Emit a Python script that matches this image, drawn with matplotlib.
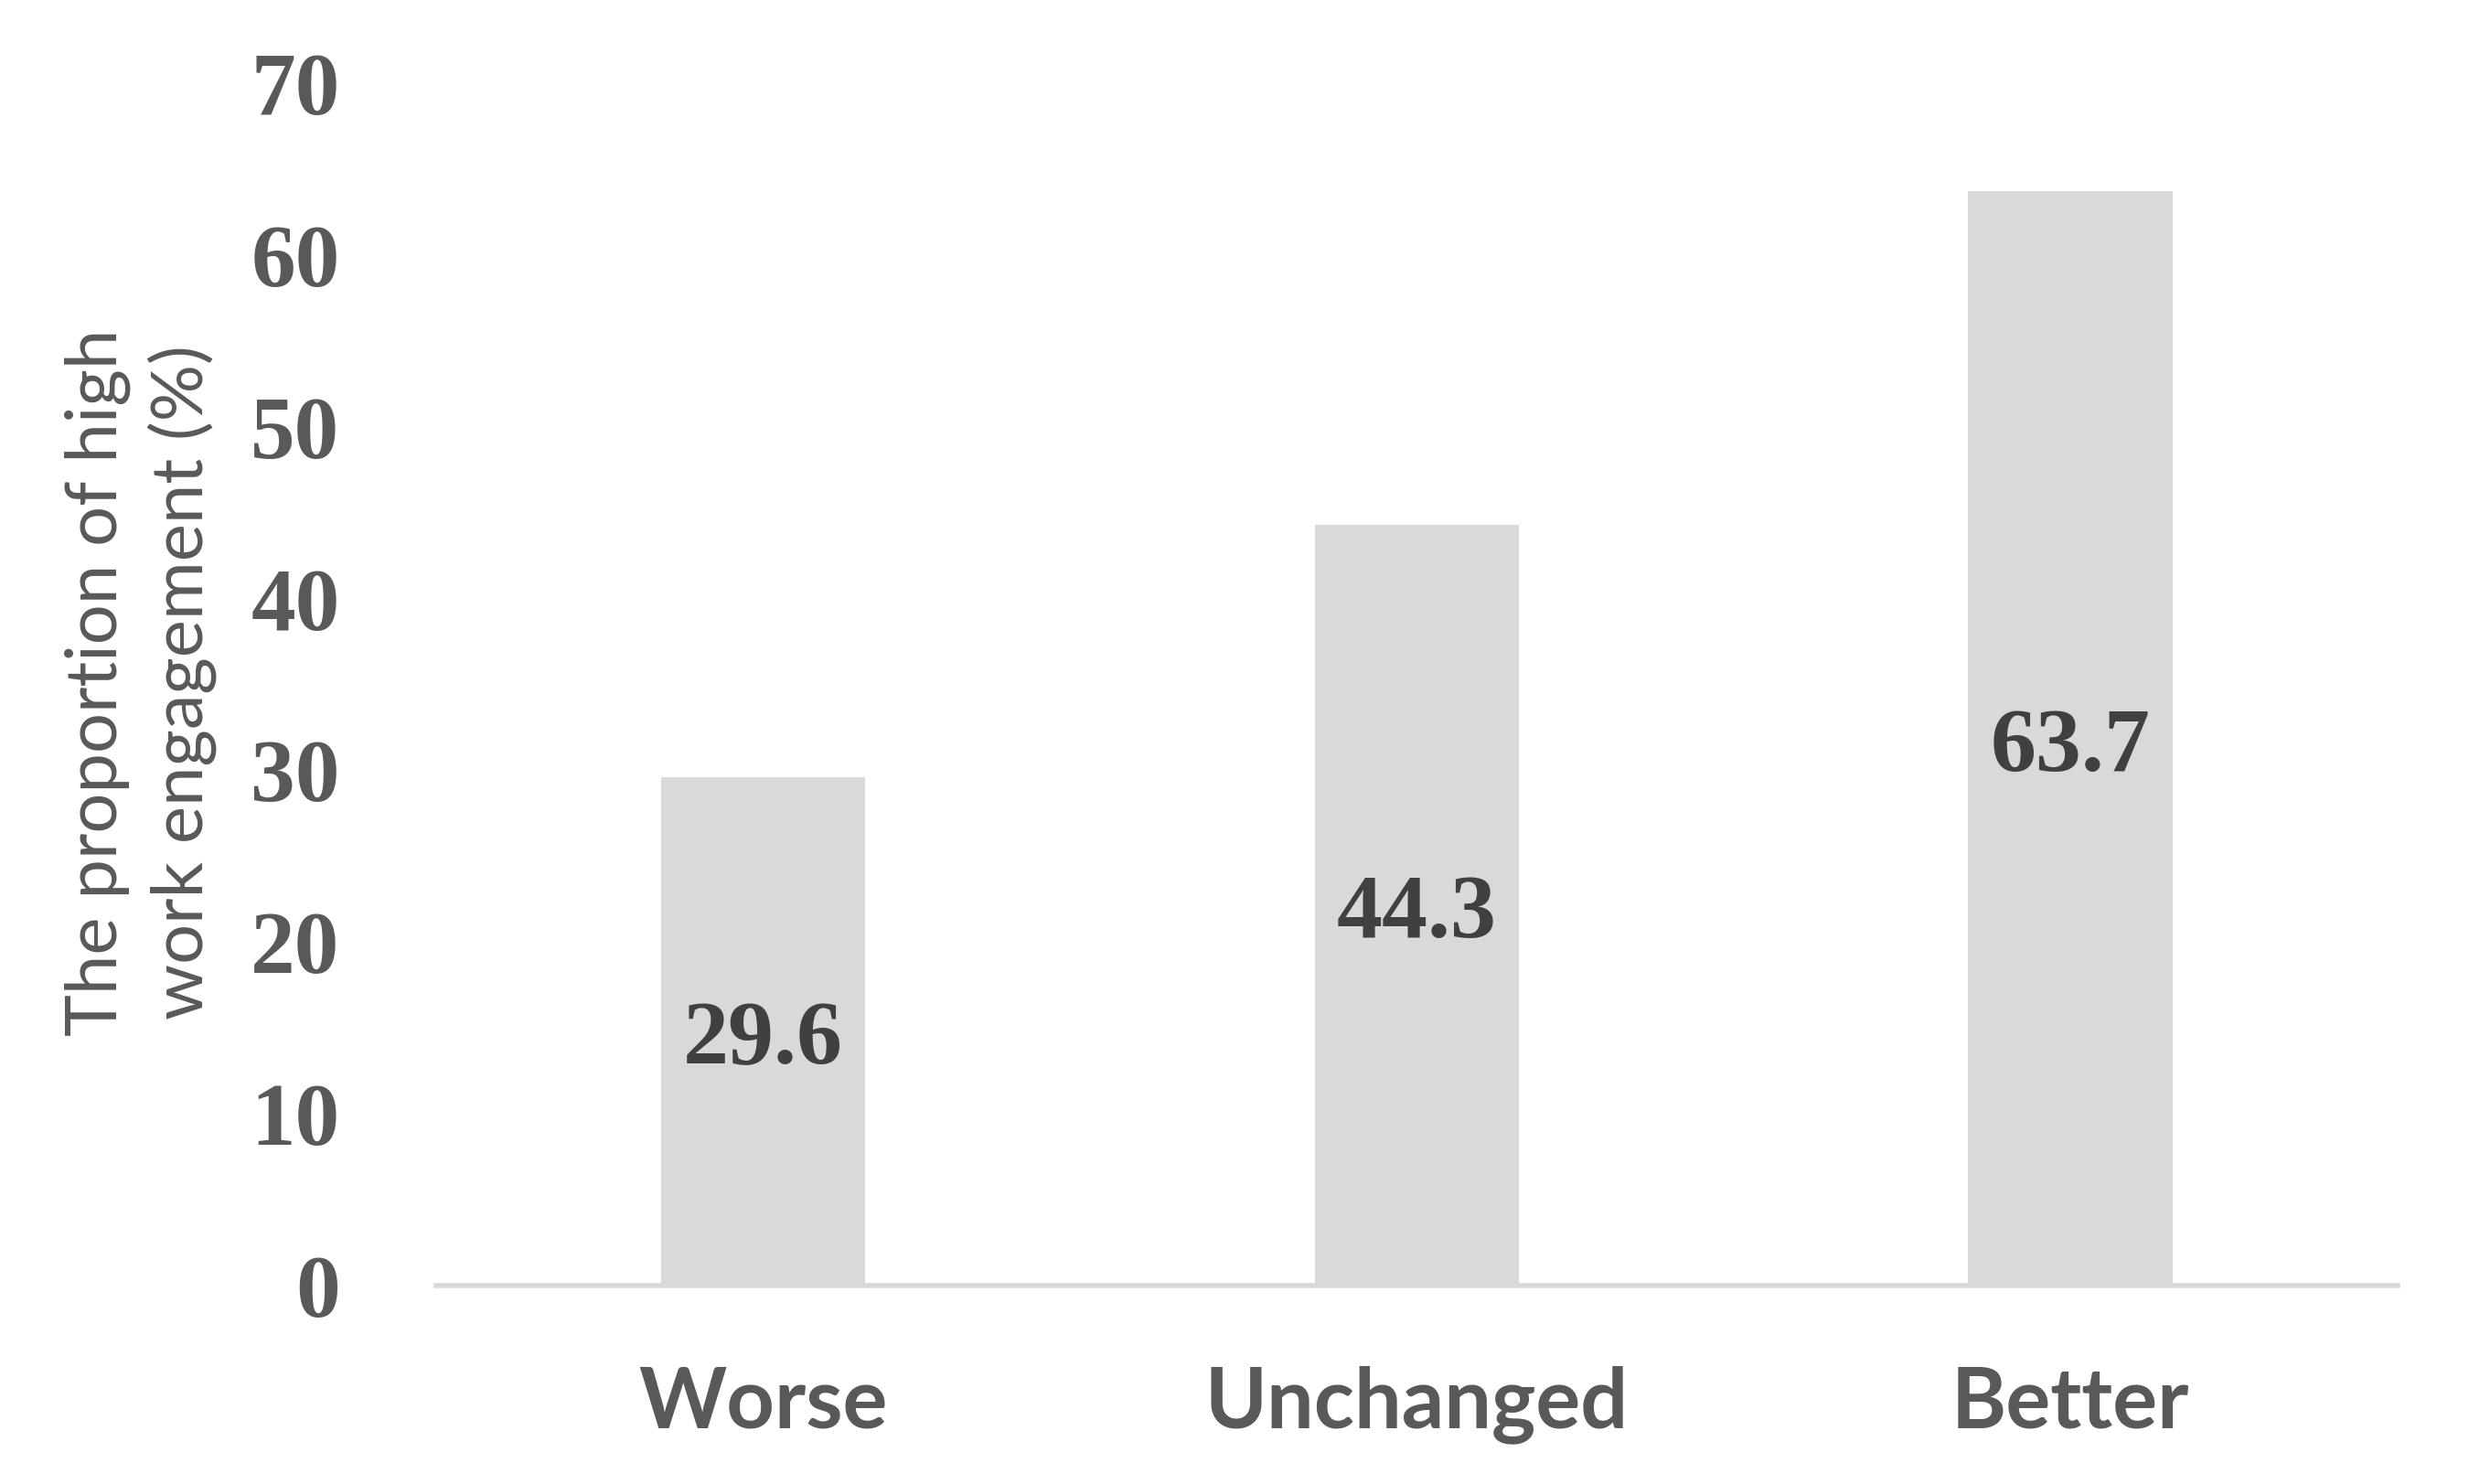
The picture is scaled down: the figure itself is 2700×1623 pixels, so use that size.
import matplotlib
matplotlib.use("Agg")
import matplotlib.pyplot as plt

categories = ["Worse", "Unchanged", "Better"]
values = [29.6, 44.3, 63.7]
yticks = [0, 10, 20, 30, 40, 50, 60, 70]
ylabel = "The proportion of high\nwork engagement (%)"

fig = plt.figure(figsize=(27, 16.23), dpi=100)
ax = fig.add_axes([0.1767, 0.1337, 0.971 - 0.1767, 0.944 - 0.1337])

x = range(len(categories))
bars = ax.bar(x, values, width=0.313, color="#D9D9D9", zorder=2)
ax.set_xlim(-0.5, 2.5)
ax.set_ylim(0, 70)
ax.set_yticks(yticks)
ax.set_yticklabels([str(t) for t in yticks], fontfamily="Liberation Serif",
                   fontweight="bold", fontsize=70, color="#595959")
ax.set_xticks(list(x))
ax.set_xticklabels(categories, fontfamily="Lato", fontweight="bold",
                   fontsize=66, color="#595959")
ax.tick_params(axis="y", length=0, pad=76)
ax.tick_params(axis="x", length=0, pad=63)

for s in ["top", "right", "left"]:
    ax.spines[s].set_visible(False)
ax.spines["bottom"].set_color("#D9D9D9")
ax.spines["bottom"].set_linewidth(4)
ax.spines["bottom"].set_zorder(3)

for xi, v in zip(x, values):
    ax.annotate(f"{v:.1f}", xy=(xi, v / 2), xytext=(0, -8),
                textcoords="offset points", ha="center", va="center",
                fontfamily="Liberation Serif", fontweight="bold", fontsize=72,
                color="#404040", zorder=4)

fig.text(0.057, 0.54, ylabel, rotation=90, ha="center", va="center",
         fontfamily="Lato", fontsize=56, color="#595959", linespacing=1.3)

fig.savefig("out.png", dpi=100, facecolor="white")
